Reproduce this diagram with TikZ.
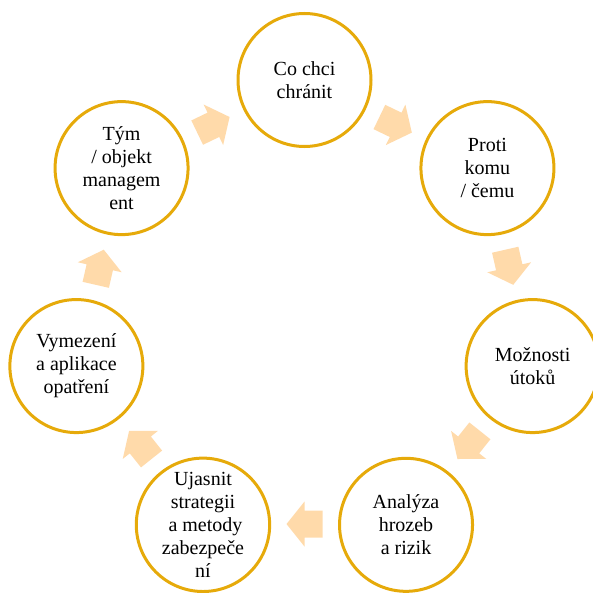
\documentclass[tikz,border=0pt]{standalone}
\usepackage{fontspec}
\setmainfont{Liberation Serif}
\definecolor{ringgold}{RGB}{230,170,10}
\definecolor{peach}{RGB}{255,218,170}
\begin{document}
\begin{tikzpicture}[x=1pt,y=1pt,
  stage/.style={circle,draw=ringgold,line width=3pt,fill=white,minimum size=133pt,
    inner sep=0pt,align=center,font=\fontsize{20}{23}\selectfont},
  blockarrow/.style={fill=peach,draw=none}]
\clip (-304.5,-278) rectangle ++(593,592);
\useasboundingbox (-304.5,-278) rectangle ++(593,592);
% circles
\node[stage] (c1) at (90:234) {Co chci\\chránit};
\node[stage] (c2) at (38.571:234) {Proti\\komu\\/ čemu};
\node[stage] (c3) at (-12.857:234) {Možnosti\\útoků};
\node[stage] (c4) at (-64.286:234) {Analýza\\hrozeb\\a rizik};
\node[stage] (c5) at (-115.714:234) {Ujasnit\\strategii\\\mbox{}\ a metody\\zabezpeče\\ní};
\node[stage] (c6) at (-167.143:234) {Vymezení\\a aplikace\\opatření};
\node[stage] (c7) at (141.429:234) {Tým\\/ objekt\\managem\\ent};
% block arrows between the circles, pointing clockwise
\foreach \a in {64.286,12.857,-38.571,-90,-141.429,167.143,115.714}{
  \begin{scope}[shift={(\a:210)},rotate=\a-90]
    \fill[blockarrow] (-18,-13.5) -- (0,-13.5) -- (0,-22.5) -- (18,0) -- (0,22.5) -- (0,13.5) -- (-18,13.5) -- cycle;
  \end{scope}
}
\end{tikzpicture}
\end{document}
